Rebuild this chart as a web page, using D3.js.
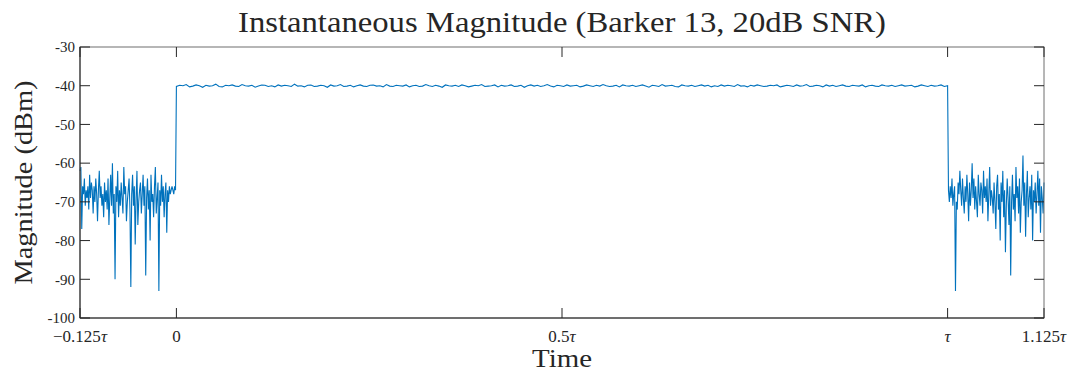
<!DOCTYPE html>
<html>
  <head>
    <script src="https://cdnjs.cloudflare.com/ajax/libs/d3/7.8.5/d3.min.js"></script>
    <style>
      body { margin: 0; background: #fff; overflow: hidden; }
      text { font-family: "Liberation Serif", "DejaVu Serif", serif; fill: #262626; }
    </style>
  </head>
  <body>
    <div id="chart"></div>
    <script>
      // noise before the pulse (-0.125τ .. 0), dBm
      const noiseBefore = [-62,-61,-77,-66,-68,-64,-71,-67,-69,-66,-72,-63,-69,-65,-67,-73,-66,-70,-64,-68,-75,-67,-62,-69,-66,-71,-68,-74,-65,-70,-67,-72,-64,-76,-69,-63,-71,-60,-73,-68,-90,-66,-70,-62,-74,-67,-71,-65,-69,-73,-61,-68,-66,-75,-70,-67,-64,-72,-92,-68,-63,-71,-66,-81,-69,-62,-76,-70,-67,-65,-73,-68,-63,-71,-66,-89,-69,-64,-72,-67,-80,-63,-70,-68,-74,-66,-61,-73,-69,-65,-93,-67,-71,-63,-70,-66,-74,-68,-65,-78,-67,-70,-66,-68,-67,-66,-67,-68,-66,-67];
      // pulse plateau (0 .. τ), dBm
      const pulse = [-40.2,-39.9,-40.0,-39.7,-40.3,-40.1,-39.8,-40.0,-40.4,-39.9,-40.1,-40.0,-39.6,-40.2,-40.3,-39.9,-40.0,-39.8,-40.1,-40.2,-39.7,-40.0,-40.1,-39.9,-40.4,-40.1,-39.8,-39.9,-40.2,-40.0,-40.3,-39.8,-40.1,-39.9,-40.0,-40.2,-39.6,-40.1,-40.0,-40.3,-39.9,-39.8,-40.2,-40.1,-39.9,-40.0,-40.4,-39.8,-40.1,-40.0,-39.7,-40.2,-40.1,-39.9,-40.3,-40.0,-39.8,-40.1,-40.2,-39.9,-39.8,-40.1,-40.0,-40.3,-39.7,-40.1,-40.2,-39.9,-40.0,-40.1,-39.8,-40.3,-40.0,-39.9,-40.2,-40.1,-39.7,-40.0,-40.2,-39.9,-40.1,-40.4,-39.8,-40.0,-40.1,-39.9,-40.2,-39.8,-40.0,-40.3,-40.1,-39.9,-40.0,-39.7,-40.2,-40.1,-40.0,-39.8,-40.3,-39.9,-40.1,-40.0,-39.8,-40.2,-40.1,-39.9,-40.4,-40.0,-39.8,-40.1,-39.9,-40.2,-40.0,-39.7,-40.1,-40.3,-39.9,-40.0,-40.2,-39.8,-40.1,-40.0,-39.9,-40.3,-40.1,-39.8,-40.0,-40.2,-39.9,-40.1,-39.7,-40.0,-40.2,-40.1,-39.9,-40.3,-39.8,-40.0,-40.1,-39.9,-40.2,-40.0,-39.8,-40.1,-40.4,-39.9,-40.0,-40.2,-39.7,-40.1,-40.0,-39.9,-40.2,-40.3,-39.8,-40.0,-40.1,-39.9,-40.2,-40.0,-39.8,-40.1,-39.9,-40.3,-40.0,-40.2,-39.8,-40.1,-39.9,-40.0,-40.2,-39.7,-40.1,-40.0,-40.3,-39.9,-40.1,-39.8,-40.0,-40.2,-40.1,-39.9,-40.0,-39.8,-40.3,-40.1,-39.9,-40.0,-40.2,-39.8,-40.1,-40.0,-39.7,-40.2,-40.1,-39.9,-40.0,-40.3,-39.8,-40.1,-39.9,-40.2,-40.0,-39.8,-40.1,-40.2,-39.9,-40.0,-40.1,-39.8,-40.3,-40.0,-39.9,-40.1,-40.2,-39.8,-40.0,-40.1,-39.9,-40.2,-40.0,-39.8,-40.1,-40.0,-39.9,-40.3,-40.1,-39.8,-40.0,-40.2,-39.9,-40.1,-40.0,-39.8,-40.2,-40.0];
      // noise after the pulse (τ .. 1.125τ), dBm
      const noiseAfter = [-67,-70,-66,-69,-64,-71,-68,-66,-93,-70,-72,-65,-68,-62,-67,-71,-64,-69,-73,-66,-70,-63,-68,-75,-65,-71,-67,-60,-69,-64,-72,-66,-70,-74,-63,-68,-71,-65,-67,-73,-62,-69,-66,-70,-64,-75,-68,-61,-71,-67,-69,-73,-65,-70,-77,-66,-63,-72,-68,-80,-65,-70,-62,-74,-67,-83,-71,-64,-69,-76,-66,-89,-70,-63,-72,-68,-75,-61,-69,-66,-73,-64,-78,-70,-67,-58,-71,-65,-79,-68,-62,-74,-69,-66,-72,-63,-80,-67,-70,-65,-73,-68,-62,-71,-64,-78,-66,-69,-73,-65];

      const xTicks = [-0.125, 0, 0.5, 1, 1.125];
      const xTickLabels = [["\u22120.125", "τ"], ["0", ""], ["0.5", "τ"], ["", "τ"], ["1.125", "τ"]];
      const yTicks = [-100, -90, -80, -70, -60, -50, -40, -30];

      // samples: time (in units of τ) and magnitude
      const points = [];
      noiseBefore.forEach((v, i) => points.push([-0.125 + 0.125 * i / noiseBefore.length, v]));
      pulse.forEach((v, i) => points.push([i / (pulse.length - 1), v]));
      noiseAfter.forEach((v, i) => points.push([1 + 0.125 * (i + 1) / noiseAfter.length, v]));

      const width = 1072, height = 372;
      const margin = { left: 80, right: 28, top: 47, bottom: 54 };

      const svg = d3.select("#chart").append("svg")
        .attr("width", width).attr("height", height);

      const x = d3.scaleLinear().domain([-0.125, 1.125]).range([margin.left, width - margin.right]);
      const y = d3.scaleLinear().domain([-100, -30]).range([height - margin.bottom, margin.top]);

      const tickLen = 10;
      const axisColor = "#262626";

      // data line
      svg.append("path")
        .datum(points)
        .attr("fill", "none")
        .attr("stroke", "#0072BD")
        .attr("stroke-width", 1.1)
        .attr("d", d3.line().x(d => x(d[0])).y(d => y(d[1])));

      // box
      const box = svg.append("g").attr("stroke", axisColor).attr("stroke-width", 1).attr("fill", "none");
      box.append("rect")
        .attr("x", x(-0.125)).attr("y", y(-30))
        .attr("width", x(1.125) - x(-0.125)).attr("height", y(-100) - y(-30))
        .attr("stroke", "#6e6e6e");
      box.append("line").attr("x1", x(-0.125)).attr("x2", x(-0.125)).attr("y1", y(-30)).attr("y2", y(-100));
      box.append("line").attr("x1", x(-0.125)).attr("x2", x(1.125)).attr("y1", y(-100)).attr("y2", y(-100));

      // ticks (inside, on all four sides)
      xTicks.forEach(t => {
        box.append("line").attr("x1", x(t)).attr("x2", x(t)).attr("y1", y(-100)).attr("y2", y(-100) - tickLen);
        box.append("line").attr("x1", x(t)).attr("x2", x(t)).attr("y1", y(-30)).attr("y2", y(-30) + tickLen);
      });
      yTicks.forEach(t => {
        box.append("line").attr("x1", x(-0.125)).attr("x2", x(-0.125) + tickLen).attr("y1", y(t)).attr("y2", y(t));
        box.append("line").attr("x1", x(1.125)).attr("x2", x(1.125) - tickLen).attr("y1", y(t)).attr("y2", y(t));
      });

      // y tick labels
      svg.append("g").selectAll("text").data(yTicks).enter().append("text")
        .attr("x", x(-0.125) - 5).attr("y", d => y(d)).attr("dy", "0.35em")
        .attr("text-anchor", "end").style("font-size", "15px")
        .text(d => d);

      // x tick labels
      const xl = svg.append("g").selectAll("text").data(xTicks).enter().append("text")
        .attr("x", d => x(d)).attr("y", y(-100) + 24)
        .attr("text-anchor", "middle").style("font-size", "17px");
      xl.append("tspan").text((d, i) => xTickLabels[i][0]);
      xl.append("tspan").style("font-style", "italic").text((d, i) => xTickLabels[i][1]);

      // title and axis labels
      const cx = (x(-0.125) + x(1.125)) / 2;
      svg.append("text").attr("x", cx).attr("y", 32)
        .attr("text-anchor", "middle").style("font-size", "29px")
        .attr("textLength", 648).attr("lengthAdjust", "spacingAndGlyphs")
        .text("Instantaneous Magnitude (Barker 13, 20dB SNR)");
      svg.append("text").attr("x", cx).attr("y", 367)
        .attr("text-anchor", "middle").style("font-size", "26px")
        .attr("textLength", 60).attr("lengthAdjust", "spacingAndGlyphs")
        .text("Time");
      svg.append("text")
        .attr("transform", `translate(32,${(y(-30) + y(-100)) / 2}) rotate(-90)`)
        .attr("text-anchor", "middle").style("font-size", "26px")
        .attr("textLength", 204).attr("lengthAdjust", "spacingAndGlyphs")
        .text("Magnitude (dBm)");
    </script>
  </body>
</html>
